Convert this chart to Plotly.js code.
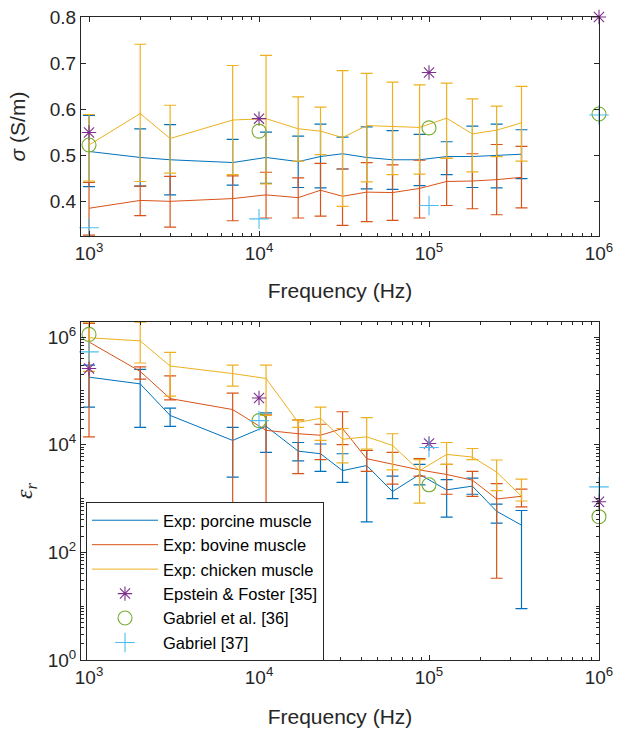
<!DOCTYPE html>
<html><head><meta charset="utf-8">
<script src="https://cdn.plot.ly/plotly-3.0.1.min.js"></script>
<style>body{margin:0;background:#fff}#chart{width:629px;height:730px}</style>
</head><body><div id="chart"></div>
<script>
// Frequencies (Hz)
const freq = [1000, 2000, 3000, 7000, 11000, 17000, 23000, 31000, 43000, 61000, 88000, 127000, 180000, 250000, 350000];
const refFreq = [1e3, 1e4, 1e5, 1e6];

// Conductivity sigma (S/m)
const sigmaPor   = [0.509, 0.496, 0.491, 0.485, 0.496, 0.487, 0.498, 0.504, 0.496, 0.491, 0.491, 0.498, 0.498, 0.501, 0.503];
const sigmaPorHi = [0.587, 0.558, 0.567, 0.535, 0.551, 0.542, 0.568, 0.540, 0.562, 0.554, 0.546, 0.530, 0.564, 0.568, 0.556];
const sigmaPorLo = [0.433, 0.434, 0.415, 0.436, 0.440, 0.431, 0.430, 0.471, 0.428, 0.427, 0.435, 0.459, 0.431, 0.430, 0.450];
const sigmaBov   = [0.386, 0.403, 0.401, 0.407, 0.415, 0.409, 0.425, 0.412, 0.421, 0.420, 0.429, 0.444, 0.445, 0.448, 0.453];
const sigmaBovHi = [0.442, 0.434, 0.455, 0.456, 0.464, 0.452, 0.483, 0.471, 0.485, 0.480, 0.490, 0.494, 0.504, 0.524, 0.520];
const sigmaBovLo = [0.328, 0.370, 0.345, 0.359, 0.365, 0.365, 0.369, 0.349, 0.357, 0.360, 0.365, 0.392, 0.385, 0.372, 0.387];
const sigmaChk   = [0.523, 0.591, 0.537, 0.577, 0.580, 0.558, 0.553, 0.539, 0.565, 0.563, 0.561, 0.581, 0.547, 0.555, 0.571];
const sigmaChkHi = [0.589, 0.741, 0.609, 0.695, 0.717, 0.627, 0.605, 0.684, 0.678, 0.659, 0.653, 0.657, 0.623, 0.607, 0.650];
const sigmaChkLo = [0.445, 0.444, 0.462, 0.459, 0.439, 0.488, 0.502, 0.390, 0.443, 0.459, 0.460, 0.494, 0.465, 0.498, 0.488];
const sigmaEpstein    = [0.55, 0.58, 0.68, 0.80];
const sigmaGabrielEtAl = [0.523, 0.553, 0.56, 0.59];
const sigmaGabriel     = [0.344, 0.363, 0.392, 0.588];

// Relative permittivity eps_r
const epsPor   = [1.8e5, 1.35e5, 3.5e4, 1.2e4, 2.2e4, 7.6e3, 6.8e3, 3.3e3, 4.1e3, 1.35e3, 2.8e3, 1.45e3, 1.7e3, 580, 320];
const epsPorHi = [3.0e5, 2.5e5, 4.8e4, 2.1e4, 3.9e4, 1.1e4, 1.03e4, 6.8e3, 7.8e3, 2.6e3, 4.3e3, 2.25e3, 2.4e3, 790, 600];
const epsPorLo = [5.0e4, 2.1e4, 2.2e4, 2.5e3, 7.2e3, 5.0e3, 3.2e3, 2.0e3, 370, 1.0e3, 1.8e3, 450, 1.2e3, 350, 9];
const epsBov   = [8.1e5, 2.3e5, 7.2e4, 4.5e4, 1.85e4, 1.6e4, 1.5e4, 2.0e4, 5.5e3, 4.3e3, 3.4e3, 2.8e3, 2.2e3, 980, 1.1e3];
const epsBovHi = [1.8e6, 2.8e5, 1.9e5, 9.1e4, 3.6e4, 2.9e4, 2.4e4, 4.1e4, 7.8e3, 7.2e3, 5.5e3, 4.3e3, 3.2e3, 1.9e3, 1.5e3];
const epsBovLo = [1.4e4, 1.65e5, 6.8e4, 0.1, 0.1, 2.9e3, 5.3e3, 1.0e4, 3.2e3, 1.85e3, 2.6e3, 1.2e3, 1.1e3, 33, 700];
const epsChk   = [9.7e5, 8.5e5, 2.9e5, 2.1e5, 1.7e5, 2.6e4, 3.1e4, 1.26e4, 1.4e4, 9.7e3, 3.3e3, 6.6e3, 5.9e3, 3.1e3, 1.1e3];
const epsChkHi = [1.9e6, 1.9e6, 5.2e5, 3.0e5, 3.0e5, 2.9e4, 5.0e4, 2.0e4, 3.2e4, 1.6e4, 5.3e3, 1.1e4, 8.5e3, 5.2e3, 2.3e3];
const epsChkLo = [2.3e5, 3.3e5, 8.0e4, 1.23e5, 3.5e4, 2.1e4, 1.2e4, 4.6e3, 8.3e3, 3.4e3, 820, 4.3e3, 5.3e3, 1.4e3, 900];
const epsEpstein     = [2.6e5, 7.4e4, 1.05e4, 870];
const epsGabrielEtAl = [1.12e6, 2.8e4, 1.8e3, 460];
const epsGabriel     = [5.3e5, 2.8e4, 8.9e3, 1.65e3];

// Labels
const names = ['Exp: porcine muscle', 'Exp: bovine muscle', 'Exp: chicken muscle', 'Epstein & Foster [35]', 'Gabriel et al. [36]', 'Gabriel [37]'];
const xTickVals = [1e3, 1e4, 1e5, 1e6];
const xTickText = ['10<sup>3</sup>', '10<sup>4</sup>', '10<sup>5</sup>', '10<sup>6</sup>'];
const sTickVals = [0.4, 0.5, 0.6, 0.7, 0.8];
const sTickText = ['0.4', '0.5', '0.6', '0.7', '0.8'];
const eTickVals = [1, 1e2, 1e4, 1e6];
const eTickText = ['10<sup>0</sup>', '10<sup>2</sup>', '10<sup>4</sup>', '10<sup>6</sup>'];

const col = ['#0072BD', '#D95319', '#EDB120', '#7E2F8E', '#77AC30', '#4DBEEE'];
const axc = '#262626';

function minorLog(d0, d1) {
  const v = [];
  for (let d = d0; d < d1; d++) for (let k = 1; k <= 9; k++) v.push(k * Math.pow(10, d));
  return v;
}

function errTrace(y, hi, lo, i, xa, ya, show) {
  return {
    x: freq, y: y, type: 'scatter', mode: 'lines', name: names[i], xaxis: xa, yaxis: ya,
    showlegend: show, legendgroup: 'g' + i,
    line: {color: col[i], width: 1},
    error_y: {type: 'data', symmetric: false,
      array: hi.map((h, k) => h - y[k]), arrayminus: lo.map((l, k) => y[k] - l),
      color: col[i], thickness: 1.2, width: 6}
  };
}
function refTrace(y, i, sym, size, xa, ya, show) {
  return {
    x: refFreq, y: y, type: 'scatter', mode: 'markers', name: names[i], xaxis: xa, yaxis: ya,
    showlegend: show, legendgroup: 'g' + i, cliponaxis: false,
    marker: {symbol: sym, size: size, color: col[i], line: {color: col[i], width: 1.1}}
  };
}

const data = [
  errTrace(sigmaPor, sigmaPorHi, sigmaPorLo, 0, 'x', 'y', false),
  errTrace(sigmaBov, sigmaBovHi, sigmaBovLo, 1, 'x', 'y', false),
  errTrace(sigmaChk, sigmaChkHi, sigmaChkLo, 2, 'x', 'y', false),
  refTrace(sigmaEpstein, 3, 'asterisk-open', 12, 'x', 'y', false),
  refTrace(sigmaGabrielEtAl, 4, 'circle-open', 14, 'x', 'y', false),
  refTrace(sigmaGabriel, 5, 'cross-thin-open', 14, 'x', 'y', false),
  errTrace(epsPor, epsPorHi, epsPorLo, 0, 'x2', 'y2', true),
  errTrace(epsBov, epsBovHi, epsBovLo, 1, 'x2', 'y2', true),
  errTrace(epsChk, epsChkHi, epsChkLo, 2, 'x2', 'y2', true),
  refTrace(epsEpstein, 3, 'asterisk-open', 12, 'x2', 'y2', true),
  refTrace(epsGabrielEtAl, 4, 'circle-open', 14, 'x2', 'y2', true),
  refTrace(epsGabriel, 5, 'cross-thin-open', 14, 'x2', 'y2', true)
];

const W = 629, H = 730;
const fontF = 'Liberation Sans, Arial, sans-serif';
const common = {
  showline: true, linecolor: axc, linewidth: 1, mirror: 'ticks', ticks: 'inside', ticklen: 5,
  tickcolor: axc, tickwidth: 1, showgrid: false, zeroline: false,
  tickfont: {family: fontF, size: 19, color: axc}, automargin: false
};
const xCommon = Object.assign({}, common, {
  type: 'log', range: [Math.log10(897), 6], tickmode: 'array', tickvals: xTickVals, ticktext: xTickText,
  minor: {tickmode: 'array', tickvals: minorLog(3, 6), ticks: 'inside', ticklen: 3, tickcolor: axc, tickwidth: 1}
});

const layout = {
  width: W, height: H, margin: {l: 0, r: 0, t: 0, b: 0},
  paper_bgcolor: '#fff', plot_bgcolor: '#fff', font: {family: fontF, color: axc},
  xaxis: Object.assign({}, xCommon, {domain: [81 / W, 599 / W], anchor: 'y',
    title: {text: 'Frequency (Hz)', font: {family: fontF, size: 21, color: axc}, standoff: 20}}),
  yaxis: Object.assign({}, common, {
    domain: [1 - 236 / H, 1 - 17 / H], anchor: 'x', range: [0.326, 0.8],
    tickmode: 'array', tickvals: sTickVals, ticktext: sTickText,
    title: {text: '<i>σ</i> (S/m)', font: {family: fontF, size: 21, color: axc}, standoff: 18}
  }),
  xaxis2: Object.assign({}, xCommon, {domain: [81 / W, 599 / W], anchor: 'y2',
    title: {text: 'Frequency (Hz)', font: {family: fontF, size: 21, color: axc}, standoff: 22}}),
  yaxis2: Object.assign({}, common, {
    domain: [1 - 660 / H, 1 - 322 / H], anchor: 'x2', type: 'log', range: [0, 6.28],
    tickmode: 'array', tickvals: eTickVals, ticktext: eTickText,
    minor: {tickmode: 'array', tickvals: minorLog(0, 7), ticks: 'inside', ticklen: 3, tickcolor: axc, tickwidth: 1},
    title: {text: '<i>ε</i><sub><i>r</i></sub>', font: {family: 'Liberation Serif, serif', size: 24, color: axc}, standoff: 8}
  }),
  showlegend: true,
  legend: {x: 86 / W, y: 1 - 502 / H, xanchor: 'left', yanchor: 'top',
    bgcolor: '#fff', bordercolor: axc, borderwidth: 1, itemwidth: 66, tracegroupgap: 0,
    font: {family: fontF, size: 16.5, color: '#000'}, traceorder: 'normal'}
};

Plotly.newPlot('chart', data, layout, {displayModeBar: false, staticPlot: true});
</script>
</body></html>
